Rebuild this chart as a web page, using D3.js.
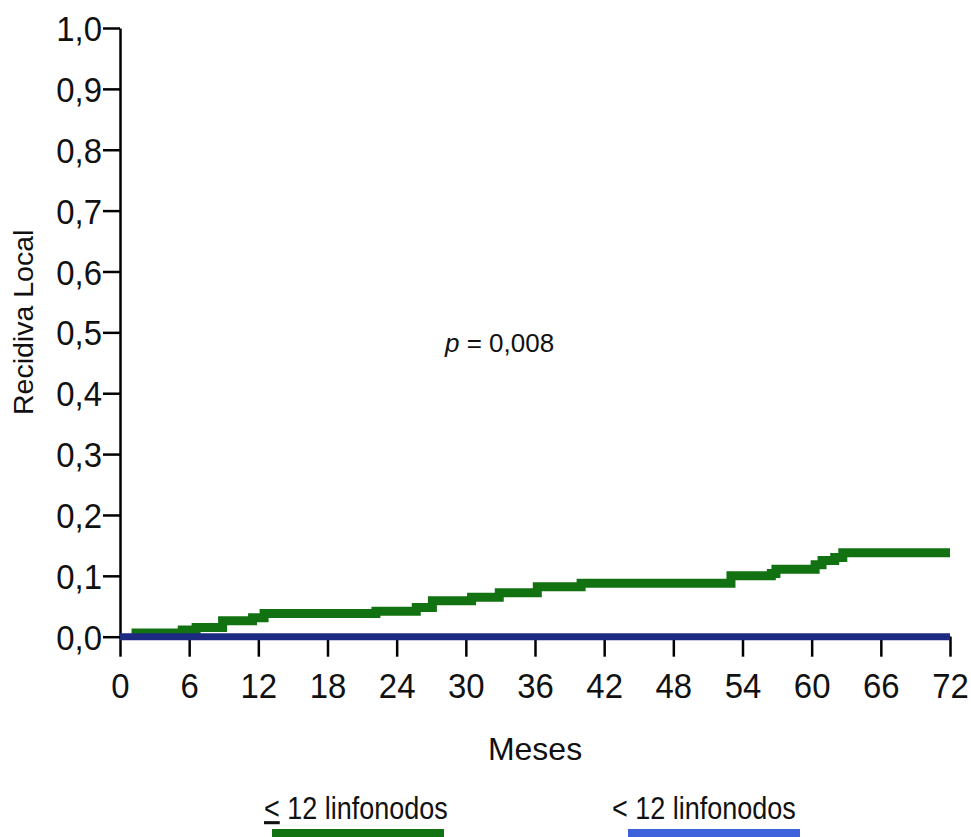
<!DOCTYPE html>
<html>
<head>
<meta charset="utf-8">
<script src="https://cdn.jsdelivr.net/npm/d3@7"></script>
<style>
  html, body { margin: 0; padding: 0; background: #fff; }
  svg { display: block; font-family: "Liberation Sans", Arial, sans-serif; }
</style>
</head>
<body>
<svg id="chart" width="971" height="837"></svg>
<script>
// Cumulative local recurrence by follow-up month (Kaplan–Meier style steps)
const stepMonths = [1.0, 5.4, 6.6, 8.9, 11.5, 12.5, 22.2, 25.7, 27.1, 30.5, 32.9, 36.2, 40.0, 53.0, 56.5, 56.9, 60.3, 60.9, 62.0, 62.7, 72];
const recurrenceLE12 = [0.006, 0.011, 0.015, 0.026, 0.031, 0.038, 0.042, 0.048, 0.059, 0.065, 0.072, 0.082, 0.088, 0.100, 0.104, 0.111, 0.118, 0.125, 0.130, 0.138, 0.138];
const flatMonths = [0, 72];
const recurrenceLT12 = [0, 0];

const xTicks = [0, 6, 12, 18, 24, 30, 36, 42, 48, 54, 60, 66, 72];
const yTicks = [0, 0.1, 0.2, 0.3, 0.4, 0.5, 0.6, 0.7, 0.8, 0.9, 1.0];
const yTickLabels = ["0,0", "0,1", "0,2", "0,3", "0,4", "0,5", "0,6", "0,7", "0,8", "0,9", "1,0"];

const seriesNames = ["12 linfonodos", "< 12 linfonodos"];
const seriesColors = ["#137313", "#3d62dc"];
const lineColors = ["#127212", "#1c2a82"];

const svg = d3.select("#chart");
svg.append("rect").attr("width", 971).attr("height", 837).attr("fill", "#fff");

const x = d3.scaleLinear().domain([0, 72]).range([120, 950]);
const y = d3.scaleLinear().domain([0, 1]).range([636.7, 28]);

// Green step curve (drawn first, the flat blue series sits on top)
const stepLine = d3.line()
  .x(d => x(d[0])).y(d => y(d[1]))
  .curve(d3.curveStepAfter);

svg.append("path")
  .datum(stepMonths.map((m, i) => [m, recurrenceLE12[i]]))
  .attr("d", stepLine)
  .attr("fill", "none")
  .attr("stroke", lineColors[0])
  .attr("stroke-width", 9);

// Axes
const yAxis = d3.axisLeft(y)
  .tickValues(yTicks)
  .tickSize(17)
  .tickSizeOuter(0)
  .tickFormat((d, i) => yTickLabels[i]);

const gy = svg.append("g").attr("transform", `translate(${x(0)},0)`).call(yAxis);
gy.select(".domain").attr("stroke", "#000").attr("stroke-width", 2.5);
gy.selectAll(".tick line").attr("stroke", "#000").attr("stroke-width", 2.5);
gy.selectAll(".tick text")
  .attr("x", 0)
  .attr("dy", "0.36em")
  .attr("transform", "translate(-18,0) scale(0.94,1)")
  .attr("font-size", 35)
  .attr("font-family", "Liberation Sans, Arial, sans-serif")
  .attr("fill", "#111");

const xAxis = d3.axisBottom(x)
  .tickValues(xTicks)
  .tickSize(20)
  .tickSizeOuter(0)
  .tickPadding(16)
  .tickFormat(d3.format("d"));

const gx = svg.append("g").attr("transform", `translate(0,${y(0)})`).call(xAxis);
gx.select(".domain").attr("stroke", "#000").attr("stroke-width", 2.5);
gx.selectAll(".tick line").attr("stroke", "#000").attr("stroke-width", 2.5);
gx.selectAll(".tick text")
  .attr("transform", "scale(0.94,1)")
  .attr("font-size", 35)
  .attr("font-family", "Liberation Sans, Arial, sans-serif")
  .attr("fill", "#111");

// Flat blue series along zero
svg.append("path")
  .datum(flatMonths.map((m, i) => [m, recurrenceLT12[i]]))
  .attr("d", d3.line().x(d => x(d[0])).y(d => y(d[1])))
  .attr("fill", "none")
  .attr("stroke", lineColors[1])
  .attr("stroke-width", 7);

// Axis titles
svg.append("text")
  .attr("transform", `translate(33,${y(0.5) - 10}) rotate(-90)`)
  .attr("text-anchor", "middle")
  .attr("font-size", 28.5)
  .attr("fill", "#111")
  .text("Recidiva Local");

svg.append("text")
  .attr("x", (x(0) + x(72)) / 2)
  .attr("y", 760)
  .attr("text-anchor", "middle")
  .attr("font-size", 32)
  .attr("fill", "#111")
  .text("Meses");

// p-value annotation
const pText = svg.append("text")
  .attr("x", 445)
  .attr("y", 352)
  .attr("font-size", 26)
  .attr("fill", "#111");
pText.append("tspan").attr("font-style", "italic").text("p");
pText.append("tspan").text(" = 0,008");

// Legend
const legendX = [264, 612];
const barX = [272, 628];
const lg = svg.append("g");
legendX.forEach((lx, i) => {
  const t = lg.append("text")
    .attr("transform", `translate(${lx},819) scale(0.87,1)`)
    .attr("font-size", 31)
    .attr("fill", "#111");
  t.append("tspan")
    .attr("text-decoration", i === 0 ? "underline" : null)
    .text("<");
  t.append("tspan").text(" " + seriesNames[i].replace("< ", ""));
  lg.append("rect")
    .attr("x", barX[i])
    .attr("y", 829)
    .attr("width", 172)
    .attr("height", 12)
    .attr("fill", seriesColors[i]);
});
</script>
</body>
</html>
